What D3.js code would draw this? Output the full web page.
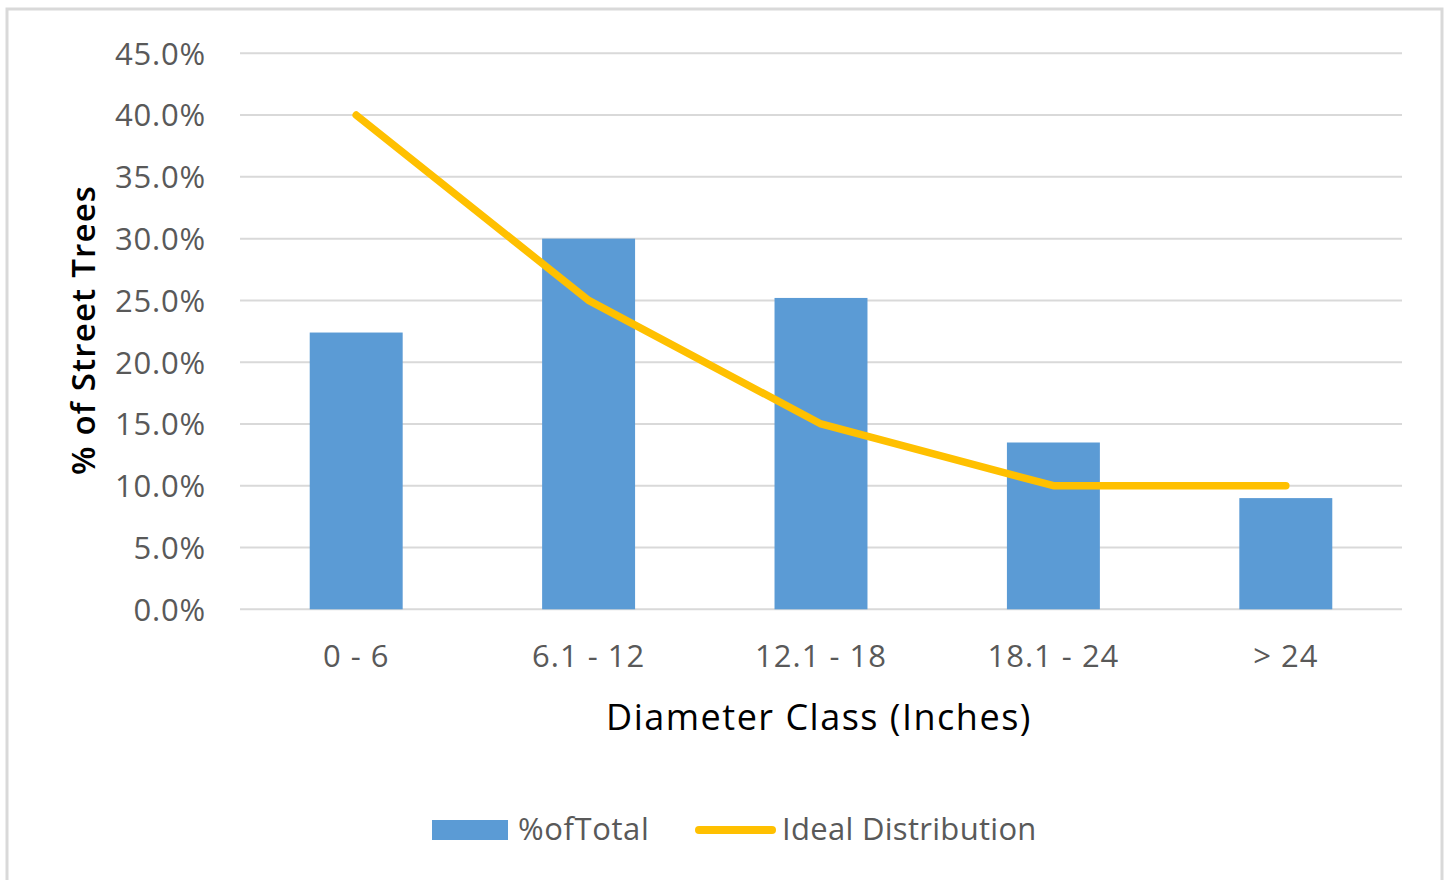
<!DOCTYPE html>
<html><head><meta charset="utf-8">
<script src="https://cdn.jsdelivr.net/npm/d3@7"></script>
<style>body{margin:0;background:#fff}svg{display:block}</style>
</head><body>
<script>
const categories = ["0 - 6", "6.1 - 12", "12.1 - 18", "18.1 - 24", "> 24"];
const pctOfTotal = [22.4, 30.0, 25.2, 13.5, 9.0];
const idealDistribution = [40, 25, 15, 10, 10];
const yTicks = [0, 5, 10, 15, 20, 25, 30, 35, 40, 45];
const seriesNames = ["%ofTotal", "Ideal Distribution"];

const W = 1449, H = 880;
const svg = d3.select("body").append("svg").attr("width", W).attr("height", H);
const font = "'Open Sans', 'Segoe UI', sans-serif";

svg.append("rect").attr("x", 7).attr("y", 9).attr("width", 1435).attr("height", 900)
  .attr("fill", "#fff").attr("stroke", "#d9d9d9").attr("stroke-width", 3);

const x = d3.scaleBand().domain(categories).range([240, 1402]).padding(0);
const y = d3.scaleLinear().domain([0, 45]).range([609.3, 53.3]);

// gridlines
svg.append("g").selectAll("line").data(yTicks).join("line")
  .attr("x1", 240).attr("x2", 1402)
  .attr("y1", d => y(d)).attr("y2", d => y(d))
  .attr("stroke", "#d9d9d9").attr("stroke-width", 2);

// y axis labels
const yAxis = d3.axisLeft(y).tickValues(yTicks).tickFormat(d => d.toFixed(1) + "%").tickSize(0).tickPadding(0);
const gy = svg.append("g").attr("transform", "translate(206,0)").call(yAxis);
gy.select(".domain").remove();
gy.selectAll("text").attr("font-family", font).attr("font-size", 31).attr("letter-spacing", 0.8)
  .attr("fill", "#595959").attr("dy", "0.35em");

// x axis labels
const xAxis = d3.axisBottom(x).tickSize(0).tickPadding(0);
const gx = svg.append("g").attr("transform", "translate(0,646)").call(xAxis);
gx.select(".domain").remove();
gx.selectAll("text").attr("font-family", font).attr("font-size", 31).attr("letter-spacing", 1)
  .attr("fill", "#595959").attr("dy", "0.35em").attr("y", 10);

// bars
const bw = x.bandwidth() * 0.4;
svg.append("g").selectAll("rect").data(pctOfTotal).join("rect")
  .attr("x", (d, i) => x(categories[i]) + x.bandwidth() / 2 - bw / 2)
  .attr("width", bw)
  .attr("y", d => y(d))
  .attr("height", d => y(0) - y(d))
  .attr("fill", "#5b9bd5");

// line
const line = d3.line().x((d, i) => x(categories[i]) + x.bandwidth() / 2).y(d => y(d));
svg.append("path").datum(idealDistribution).attr("d", line)
  .attr("fill", "none").attr("stroke", "#ffc000").attr("stroke-width", 7.5)
  .attr("stroke-linecap", "round").attr("stroke-linejoin", "round");

// axis titles
svg.append("text").attr("transform", "translate(83,330) rotate(-90)")
  .attr("text-anchor", "middle").attr("dy", "0.35em")
  .attr("font-family", font).attr("font-weight", 600).attr("font-size", 33).attr("letter-spacing", 1.2).attr("fill", "#000")
  .text("% of Street Trees");
svg.append("text").attr("x", 819).attr("y", 717).attr("dy", "0.35em")
  .attr("text-anchor", "middle").attr("font-family", font).attr("font-size", 36).attr("letter-spacing", 1.5).attr("fill", "#000")
  .text("Diameter Class (Inches)");

// legend
const lg = svg.append("g");
lg.append("rect").attr("x", 432).attr("y", 820).attr("width", 76).attr("height", 20).attr("fill", "#5b9bd5");
lg.append("text").attr("x", 518).attr("y", 829).attr("dy", "0.35em")
  .attr("font-family", font).attr("font-size", 31).attr("letter-spacing", 0.6).attr("fill", "#595959").text(seriesNames[0]);
lg.append("line").attr("x1", 699).attr("x2", 772).attr("y1", 830).attr("y2", 830)
  .attr("stroke", "#ffc000").attr("stroke-width", 8).attr("stroke-linecap", "round");
lg.append("text").attr("x", 782).attr("y", 829).attr("dy", "0.35em")
  .attr("font-family", font).attr("font-size", 31).attr("letter-spacing", 0.3).attr("fill", "#595959").text(seriesNames[1]);
</script>
</body></html>
